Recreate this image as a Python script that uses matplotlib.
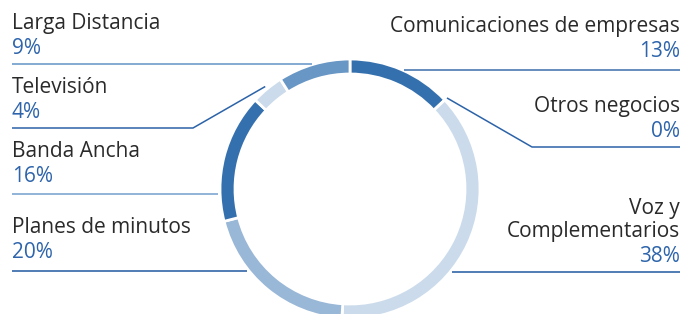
import numpy as np
import matplotlib.pyplot as plt

# data (clockwise from the top)
names = ["Comunicaciones de empresas", "Otros negocios", "Voz y\nComplementarios",
         "Planes de minutos", "Banda Ancha", "Televisión", "Larga Distancia"]
shares = [13, 0, 38, 20, 16, 4, 9]
colors = ["#3570ae", "#3570ae", "#cbdbeb", "#99b7d7", "#3570ae", "#cbdbeb", "#6896c5"]

# label layout in pixels (top-down): side, last baseline, leader y, elbow x (None = straight)
sides = ["R", "R", "R", "L", "L", "L", "L"]
pct_base = [57, 137, 262, 258, 182, 118, 54]
leader_y = [70, 147, 272, 271, 194, 128, 64]
elbow_x = [None, 532, None, None, None, 193, None]
line_cols = ["#3a6dab", "#2c63a8", "#1f57a0", "#1f57a0", "#73a0cd", "#2c63a8", "#6393c6"]

W, H = 682, 314
cx, cy, R, ring = 350, 189, 130, 15
txt_col = "#2a2a2a"
pct_col = "#2d64ab"
plt.rcParams['font.family'] = ['Open Sans', 'DejaVu Sans']

fig = plt.figure(figsize=(W / 100, H / 100), dpi=100)
ax = fig.add_axes([0, 0, 1, 1])

ax.pie(shares, colors=colors, startangle=270, counterclock=True, center=(cx, cy),
       radius=R, wedgeprops=dict(width=ring, edgecolor="white", linewidth=2))
ax.set_xlim(0, W)
ax.set_ylim(H, 0)
ax.set_aspect("equal")
ax.axis("off")

fs = 15
cum = np.cumsum([0] + shares) / sum(shares)
for i, name in enumerate(names):
    right = sides[i] == "R"
    x_txt = W - 2 if right else 12
    ha = "right" if right else "left"
    ax.text(x_txt, pct_base[i], f"{shares[i]}%", color=pct_col, fontsize=fs,
            ha=ha, va="baseline")
    ax.text(x_txt, pct_base[i] - 25, name, color=txt_col, fontsize=fs,
            ha=ha, va="baseline", linespacing=1.15, multialignment=ha)

    ly = leader_y[i]
    x_out = W - 2 if right else 12
    if elbow_x[i] is None:
        dx = np.sqrt(R ** 2 - (ly - cy) ** 2) + 2
        xs = [x_out, cx + dx if right else cx - dx]
        ys = [ly, ly]
    else:
        ang = np.deg2rad(270 + 360 * (cum[i] + cum[i + 1]) / 2)
        xs = [x_out, elbow_x[i], cx + (R + 3) * np.cos(ang)]
        ys = [ly, ly, cy + (R + 3) * np.sin(ang)]
    ax.plot(xs, ys, color=line_cols[i], lw=1.1, solid_capstyle="butt")

fig.savefig("out.png", dpi=100)
